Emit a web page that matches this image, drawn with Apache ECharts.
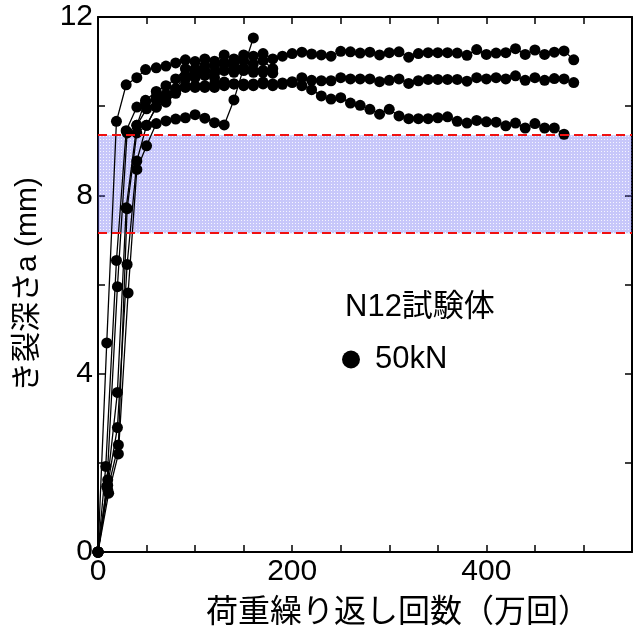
<!DOCTYPE html>
<html>
<head>
<meta charset="utf-8">
<script src="https://cdn.jsdelivr.net/npm/echarts@6/dist/echarts.min.js"></script>
<style>
  html, body { margin: 0; padding: 0; background: #fff; }
  #chart { width: 635px; height: 638px; }
</style>
</head>
<body>
<div id="chart"></div>
<script>
// Crack depth a (mm) versus load cycles (10^4 cycles), N12 specimens at 50 kN
const xTickLabels = [0, 200, 400];
const yTickLabels = [0, 4, 8, 12];

const bandLow = 7.15;   // lower bound of the shaded range (mm)
const bandHigh = 9.35;  // upper bound of the shaded range (mm)

const spec1 = [[0,0],[9,4.69],[19,9.66],[29,10.48],[40,10.64],[49,10.82],[60,10.86],[70,10.9],[80,10.97],[90,11.04],[100,11.0],[110,11.06],[120,11.01],[130,11.15],[140,11.06],[150,11.15],[160,11.12],[170,11.18],[180,11.06],
  [190,11.12],[200,11.18],[210,11.21],[220,11.17],[230,11.15],[240,11.12],[250,11.23],[260,11.22],[270,11.19],[280,11.21],[290,11.15],[300,11.20],[310,11.22],[320,11.10],[330,11.18],[340,11.20],[350,11.20],[360,11.20],[370,11.19],[380,11.14],[390,11.27],[400,11.16],[410,11.19],[420,11.20],[430,11.29],[440,11.16],[450,11.26],[460,11.16],[470,11.21],[480,11.24],[490,11.04]];

const spec2 = [[0,0],[8,1.92],[19,6.54],[29,9.45],[40,9.98],[49,10.09],[60,10.2],[70,10.27],[80,10.39],[90,10.42],[100,10.42],[110,10.42],[120,10.42],[130,10.54],[140,10.5],[150,10.46],[160,10.46],[170,10.54],[180,10.5],
  [190,10.49],[200,10.53],[210,10.64],[220,10.58],[230,10.57],[240,10.57],[250,10.64],[260,10.61],[270,10.61],[280,10.61],[290,10.55],[300,10.58],[310,10.61],[320,10.51],[330,10.57],[340,10.60],[350,10.60],[360,10.60],[370,10.60],[380,10.56],[390,10.64],[400,10.61],[410,10.64],[420,10.61],[430,10.68],[440,10.58],[450,10.64],[460,10.58],[470,10.62],[480,10.61],[490,10.53]];

const spec3 = [[0,0],[9,1.47],[20,5.95],[30,9.4],[40,9.57],[50,9.94],[60,10.13],[70,10.2],[80,10.33],[90,10.46],[100,10.46],[110,10.46],[120,10.5],[130,10.46],[140,10.5],[150,10.5],[160,10.5],[170,10.5],[180,10.46],[190,10.52],[200,10.55],
  [210,10.46],[220,10.37],[230,10.23],[240,10.16],[250,10.19],[260,10.07],[270,10.02],[280,9.93],[290,9.82],[300,9.93],[310,9.78],[320,9.72],[330,9.72],[340,9.72],[350,9.74],[360,9.76],[370,9.66],[380,9.62],[390,9.68],[400,9.65],[410,9.64],[420,9.56],[430,9.62],[440,9.51],[450,9.61],[460,9.51],[470,9.51],[480,9.37]];

const spec4 = [[0,0],[11,1.32],[21,2.2],[31,5.81],[40,8.58],[50,9.11],[60,9.61],[70,9.67],[80,9.71],[90,9.74],[100,9.81],[110,9.73],[120,9.63],[130,9.58],[140,10.14],[150,10.86],[160,11.53]];

const spec5 = [[0,0],[10,1.62],[20,3.58],[29,7.72],[40,9.57],[49,10.13],[60,10.33],[70,10.46],[80,10.61],[90,10.84],[100,10.84],[110,10.91],[120,10.91],[130,10.98],[140,10.98],[150,11.02],[160,10.95],[170,11.02],[180,10.84]];

const spec6 = [[0,0],[10,1.5],[20,2.79],[30,6.45],[40,8.77],[50,9.57],[60,9.98],[70,10.2],[80,10.39],[90,10.69],[100,10.74],[110,10.8],[120,10.76],[130,10.94],[140,10.87],[150,10.84],[160,10.8],[170,10.76]];

const spec7 = [[0,0],[10,1.4],[21,2.4],[30,7.7],[40,9.4],[50,9.57],[60,9.98],[70,10.09],[80,10.29],[90,10.61],[100,10.64],[110,10.69],[120,10.64],[130,10.8],[140,10.76],[150,10.8],[160,10.76],[170,10.8],[180,10.74]];

const specimens = [spec1, spec2, spec3, spec4, spec5, spec6, spec7];

const FONT = '"Liberation Sans", Arial, "Noto Sans CJK JP", sans-serif';

// dotted lavender fill for the shaded range
function bandPattern() {
  const c = document.createElement('canvas');
  c.width = 3; c.height = 3;
  const g = c.getContext('2d');
  g.fillStyle = 'rgba(90,90,240,0.34)';
  g.fillRect(0, 0, 3, 3);
  g.clearRect(1, 1, 1, 1);
  g.fillStyle = 'rgba(90,90,240,0.06)';
  g.fillRect(1, 1, 1, 1);
  return c;
}

const chart = echarts.init(document.getElementById('chart'), null, { renderer: 'canvas' });

const lineSeries = specimens.map(d => ({
  name: '50kN',
  type: 'line',
  data: d,
  symbol: 'circle',
  symbolSize: 11,
  showAllSymbol: true,
  itemStyle: { color: '#000' },
  lineStyle: { color: '#000', width: 1.3 },
  emphasis: { disabled: true },
  animation: false,
  z: 2
}));

const bandSeries = {
  type: 'line',
  data: [],
  silent: true,
  animation: false,
  z: 10,
  markArea: {
    silent: true,
    itemStyle: { color: { image: bandPattern(), repeat: 'repeat' } },
    data: [[{ yAxis: bandLow }, { yAxis: bandHigh }]]
  },
  markLine: {
    silent: true,
    symbol: 'none',
    label: { show: false },
    lineStyle: { color: '#f01010', type: [9, 5], width: 2 },
    data: [{ yAxis: bandHigh }, { yAxis: bandLow }]
  }
};

const tickStyle = { show: true, inside: true, length: 7, lineStyle: { color: '#000', width: 1.5 } };

chart.setOption({
  backgroundColor: '#fff',
  animation: false,
  title: {
    text: 'N12試験体',
    left: 340, top: 287,
    textStyle: { fontFamily: FONT, fontSize: 31, fontWeight: 'normal', color: '#000' }
  },
  legend: {
    data: ['50kN'],
    left: 337, top: 339,
    icon: 'circle',
    itemWidth: 18, itemHeight: 18,
    itemGap: 10,
    textStyle: { fontFamily: FONT, fontSize: 31, color: '#000', padding: [0, 0, 0, 10] },
    selectedMode: false
  },
  grid: { left: 98, right: 2, top: 17, bottom: 86, containLabel: false },
  xAxis: [{
    type: 'value', min: 0, max: 550, interval: 50,
    name: '荷重繰り返し回数（万回）',
    nameLocation: 'middle', nameGap: 45,
    nameTextStyle: { fontFamily: FONT, fontSize: 32, color: '#000', padding: [0, 0, 0, 66] },
    axisLine: { show: true, onZero: false, lineStyle: { color: '#000', width: 2 } },
    axisTick: tickStyle,
    splitLine: { show: false },
    axisLabel: {
      fontFamily: FONT, fontSize: 30, color: '#000', margin: 5,
      formatter: v => (xTickLabels.includes(v) ? String(v) : '')
    }
  }, {
    type: 'value', min: 0, max: 550, interval: 50, position: 'top',
    axisLine: { show: true, onZero: false, lineStyle: { color: '#000', width: 2 } },
    axisTick: tickStyle, axisLabel: { show: false }, splitLine: { show: false }
  }],
  yAxis: [{
    type: 'value', min: 0, max: 12, interval: 2,
    name: 'き裂深さa (mm)',
    nameLocation: 'middle', nameGap: 55, nameRotate: 90,
    nameTextStyle: { fontFamily: FONT, fontSize: 30, color: '#000' },
    axisLine: { show: true, onZero: false, lineStyle: { color: '#000', width: 2 } },
    axisTick: tickStyle,
    splitLine: { show: false },
    axisLabel: {
      fontFamily: FONT, fontSize: 30, color: '#000', margin: 5,
      formatter: v => (yTickLabels.includes(v) ? String(v) : '')
    }
  }, {
    type: 'value', min: 0, max: 12, interval: 2, position: 'right',
    axisLine: { show: true, onZero: false, lineStyle: { color: '#000', width: 2 } },
    axisTick: tickStyle, axisLabel: { show: false }, splitLine: { show: false }
  }],
  series: lineSeries.concat([bandSeries])
});
</script>
</body>
</html>
